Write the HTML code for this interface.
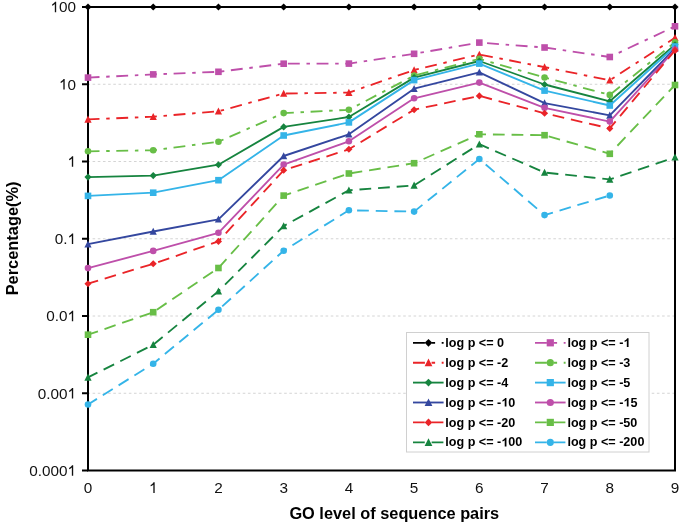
<!DOCTYPE html>
<html><head><meta charset="utf-8"><style>
html,body{margin:0;padding:0;background:#fff;}
body{width:685px;height:527px;overflow:hidden;position:relative;font-family:"Liberation Sans",sans-serif;}
svg{position:absolute;left:0;top:0;will-change:transform;}
text{font-family:"Liberation Sans",sans-serif;font-kerning:none;}
</style></head><body>
<svg width="685" height="527" viewBox="0 0 685 527">

<line x1="89" y1="84.25" x2="674" y2="84.25" stroke="#d4d4d4" stroke-width="1" stroke-dasharray="2.5885 2.5885" stroke-dashoffset="1.58"/>
<line x1="89" y1="161.50" x2="674" y2="161.50" stroke="#d4d4d4" stroke-width="1" stroke-dasharray="2.5885 2.5885" stroke-dashoffset="1.58"/>
<line x1="89" y1="238.75" x2="674" y2="238.75" stroke="#d4d4d4" stroke-width="1" stroke-dasharray="2.5885 2.5885" stroke-dashoffset="1.58"/>
<line x1="89" y1="316.00" x2="674" y2="316.00" stroke="#d4d4d4" stroke-width="1" stroke-dasharray="2.5885 2.5885" stroke-dashoffset="1.58"/>
<line x1="89" y1="393.25" x2="674" y2="393.25" stroke="#d4d4d4" stroke-width="1" stroke-dasharray="2.5885 2.5885" stroke-dashoffset="1.58"/>
<rect x="88" y="7" width="587" height="463.5" fill="none" stroke="#000" stroke-width="2"/>
<line x1="82" y1="7.00" x2="88" y2="7.00" stroke="#000" stroke-width="2"/>
<line x1="82" y1="84.25" x2="88" y2="84.25" stroke="#000" stroke-width="2"/>
<line x1="82" y1="161.50" x2="88" y2="161.50" stroke="#000" stroke-width="2"/>
<line x1="82" y1="238.75" x2="88" y2="238.75" stroke="#000" stroke-width="2"/>
<line x1="82" y1="316.00" x2="88" y2="316.00" stroke="#000" stroke-width="2"/>
<line x1="82" y1="393.25" x2="88" y2="393.25" stroke="#000" stroke-width="2"/>
<line x1="82" y1="470.50" x2="88" y2="470.50" stroke="#000" stroke-width="2"/>
<path transform="translate(50.47 12.30) scale(0.007471 -0.007471)" d="M763 0L583 0L583 1100Q520 1040 430 985Q330 925 223 885L223 1055Q340 1110 440 1195Q560 1300 610 1409L763 1409Z" fill="#111"/><text x="58.98" y="12.30" font-size="15.3" fill="#111">00</text>
<path transform="translate(58.98 89.55) scale(0.007471 -0.007471)" d="M763 0L583 0L583 1100Q520 1040 430 985Q330 925 223 885L223 1055Q340 1110 440 1195Q560 1300 610 1409L763 1409Z" fill="#111"/><text x="67.49" y="89.55" font-size="15.3" fill="#111">0</text>
<path transform="translate(67.49 166.80) scale(0.007471 -0.007471)" d="M763 0L583 0L583 1100Q520 1040 430 985Q330 925 223 885L223 1055Q340 1110 440 1195Q560 1300 610 1409L763 1409Z" fill="#111"/>
<text x="54.73" y="244.05" font-size="15.3" fill="#111">0.</text><path transform="translate(67.49 244.05) scale(0.007471 -0.007471)" d="M763 0L583 0L583 1100Q520 1040 430 985Q330 925 223 885L223 1055Q340 1110 440 1195Q560 1300 610 1409L763 1409Z" fill="#111"/>
<text x="46.22" y="321.30" font-size="15.3" fill="#111">0.0</text><path transform="translate(67.49 321.30) scale(0.007471 -0.007471)" d="M763 0L583 0L583 1100Q520 1040 430 985Q330 925 223 885L223 1055Q340 1110 440 1195Q560 1300 610 1409L763 1409Z" fill="#111"/>
<text x="37.71" y="398.55" font-size="15.3" fill="#111">0.00</text><path transform="translate(67.49 398.55) scale(0.007471 -0.007471)" d="M763 0L583 0L583 1100Q520 1040 430 985Q330 925 223 885L223 1055Q340 1110 440 1195Q560 1300 610 1409L763 1409Z" fill="#111"/>
<text x="29.20" y="475.80" font-size="15.3" fill="#111">0.000</text><path transform="translate(67.49 475.80) scale(0.007471 -0.007471)" d="M763 0L583 0L583 1100Q520 1040 430 985Q330 925 223 885L223 1055Q340 1110 440 1195Q560 1300 610 1409L763 1409Z" fill="#111"/>
<text x="83.75" y="492.90" font-size="15.3" fill="#111">0</text>
<path transform="translate(148.97 492.90) scale(0.007471 -0.007471)" d="M763 0L583 0L583 1100Q520 1040 430 985Q330 925 223 885L223 1055Q340 1110 440 1195Q560 1300 610 1409L763 1409Z" fill="#111"/>
<text x="214.19" y="492.90" font-size="15.3" fill="#111">2</text>
<text x="279.41" y="492.90" font-size="15.3" fill="#111">3</text>
<text x="344.63" y="492.90" font-size="15.3" fill="#111">4</text>
<text x="409.86" y="492.90" font-size="15.3" fill="#111">5</text>
<text x="475.08" y="492.90" font-size="15.3" fill="#111">6</text>
<text x="540.30" y="492.90" font-size="15.3" fill="#111">7</text>
<text x="605.52" y="492.90" font-size="15.3" fill="#111">8</text>
<text x="670.75" y="492.90" font-size="15.3" fill="#111">9</text>
<text x="394.3" y="519.3" font-size="16.35" font-weight="bold" text-anchor="middle" fill="#000">GO level of sequence pairs</text>
<text transform="translate(17.8 238.4) rotate(-90)" x="0" y="0" font-size="16.4" font-weight="bold" text-anchor="middle" fill="#000">Percentage(%)</text>
<path d="M88.00 77.60L153.22 74.40L218.44 71.80L283.67 63.70L348.89 63.60L414.11 53.80L479.33 42.60L544.56 47.50L609.78 57.00L675.00 26.30" fill="none" stroke="#BE4FAA" stroke-width="1.85" stroke-dasharray="11.9 6.7 3.5 6.6" stroke-dashoffset="0.4" stroke-linejoin="round"/>
<rect x="84.70" y="74.30" width="6.60" height="6.60" fill="#BE4FAA"/>
<rect x="149.92" y="71.10" width="6.60" height="6.60" fill="#BE4FAA"/>
<rect x="215.14" y="68.50" width="6.60" height="6.60" fill="#BE4FAA"/>
<rect x="280.37" y="60.40" width="6.60" height="6.60" fill="#BE4FAA"/>
<rect x="345.59" y="60.30" width="6.60" height="6.60" fill="#BE4FAA"/>
<rect x="410.81" y="50.50" width="6.60" height="6.60" fill="#BE4FAA"/>
<rect x="476.03" y="39.30" width="6.60" height="6.60" fill="#BE4FAA"/>
<rect x="541.26" y="44.20" width="6.60" height="6.60" fill="#BE4FAA"/>
<rect x="606.48" y="53.70" width="6.60" height="6.60" fill="#BE4FAA"/>
<rect x="671.70" y="23.00" width="6.60" height="6.60" fill="#BE4FAA"/>
<path d="M88.00 119.40L153.22 116.70L218.44 111.30L283.67 93.50L348.89 92.60L414.11 70.00L479.33 54.50L544.56 67.10L609.78 80.30L675.00 37.80" fill="none" stroke="#EA2428" stroke-width="1.85" stroke-dasharray="11.9 6.7 3.5 6.6" stroke-dashoffset="0.4" stroke-linejoin="round"/>
<path d="M88.00 115.60L91.60 122.70L84.40 122.70Z" fill="#EA2428"/>
<path d="M153.22 112.90L156.82 120.00L149.62 120.00Z" fill="#EA2428"/>
<path d="M218.44 107.50L222.04 114.60L214.84 114.60Z" fill="#EA2428"/>
<path d="M283.67 89.70L287.27 96.80L280.07 96.80Z" fill="#EA2428"/>
<path d="M348.89 88.80L352.49 95.90L345.29 95.90Z" fill="#EA2428"/>
<path d="M414.11 66.20L417.71 73.30L410.51 73.30Z" fill="#EA2428"/>
<path d="M479.33 50.70L482.93 57.80L475.73 57.80Z" fill="#EA2428"/>
<path d="M544.56 63.30L548.16 70.40L540.96 70.40Z" fill="#EA2428"/>
<path d="M609.78 76.50L613.38 83.60L606.18 83.60Z" fill="#EA2428"/>
<path d="M675.00 34.00L678.60 41.10L671.40 41.10Z" fill="#EA2428"/>
<path d="M88.00 151.30L153.22 150.30L218.44 141.70L283.67 113.10L348.89 109.80L414.11 75.60L479.33 58.90L544.56 77.50L609.78 94.90L675.00 42.20" fill="none" stroke="#68BE47" stroke-width="1.85" stroke-dasharray="11.9 6.7 3.5 6.6" stroke-dashoffset="0.4" stroke-linejoin="round"/>
<circle cx="88.00" cy="151.30" r="3.30" fill="#68BE47"/>
<circle cx="153.22" cy="150.30" r="3.30" fill="#68BE47"/>
<circle cx="218.44" cy="141.70" r="3.30" fill="#68BE47"/>
<circle cx="283.67" cy="113.10" r="3.30" fill="#68BE47"/>
<circle cx="348.89" cy="109.80" r="3.30" fill="#68BE47"/>
<circle cx="414.11" cy="75.60" r="3.30" fill="#68BE47"/>
<circle cx="479.33" cy="58.90" r="3.30" fill="#68BE47"/>
<circle cx="544.56" cy="77.50" r="3.30" fill="#68BE47"/>
<circle cx="609.78" cy="94.90" r="3.30" fill="#68BE47"/>
<circle cx="675.00" cy="42.20" r="3.30" fill="#68BE47"/>
<path d="M88.00 177.10L153.22 175.60L218.44 164.70L283.67 126.90L348.89 117.00L414.11 77.60L479.33 61.00L544.56 84.50L609.78 101.30L675.00 44.80" fill="none" stroke="#16843F" stroke-width="1.85" stroke-linejoin="round"/>
<path d="M88.00 173.55L91.55 177.10L88.00 180.65L84.45 177.10Z" fill="#16843F"/>
<path d="M153.22 172.05L156.77 175.60L153.22 179.15L149.67 175.60Z" fill="#16843F"/>
<path d="M218.44 161.15L221.99 164.70L218.44 168.25L214.89 164.70Z" fill="#16843F"/>
<path d="M283.67 123.35L287.22 126.90L283.67 130.45L280.12 126.90Z" fill="#16843F"/>
<path d="M348.89 113.45L352.44 117.00L348.89 120.55L345.34 117.00Z" fill="#16843F"/>
<path d="M414.11 74.05L417.66 77.60L414.11 81.15L410.56 77.60Z" fill="#16843F"/>
<path d="M479.33 57.45L482.88 61.00L479.33 64.55L475.78 61.00Z" fill="#16843F"/>
<path d="M544.56 80.95L548.11 84.50L544.56 88.05L541.01 84.50Z" fill="#16843F"/>
<path d="M609.78 97.75L613.33 101.30L609.78 104.85L606.23 101.30Z" fill="#16843F"/>
<path d="M675.00 41.25L678.55 44.80L675.00 48.35L671.45 44.80Z" fill="#16843F"/>
<path d="M88.00 195.90L153.22 192.70L218.44 180.20L283.67 135.50L348.89 122.40L414.11 80.10L479.33 63.60L544.56 90.60L609.78 105.50L675.00 46.50" fill="none" stroke="#34B4E8" stroke-width="1.85" stroke-linejoin="round"/>
<rect x="84.70" y="192.60" width="6.60" height="6.60" fill="#34B4E8"/>
<rect x="149.92" y="189.40" width="6.60" height="6.60" fill="#34B4E8"/>
<rect x="215.14" y="176.90" width="6.60" height="6.60" fill="#34B4E8"/>
<rect x="280.37" y="132.20" width="6.60" height="6.60" fill="#34B4E8"/>
<rect x="345.59" y="119.10" width="6.60" height="6.60" fill="#34B4E8"/>
<rect x="410.81" y="76.80" width="6.60" height="6.60" fill="#34B4E8"/>
<rect x="476.03" y="60.30" width="6.60" height="6.60" fill="#34B4E8"/>
<rect x="541.26" y="87.30" width="6.60" height="6.60" fill="#34B4E8"/>
<rect x="606.48" y="102.20" width="6.60" height="6.60" fill="#34B4E8"/>
<rect x="671.70" y="43.20" width="6.60" height="6.60" fill="#34B4E8"/>
<path d="M88.00 244.20L153.22 231.50L218.44 219.30L283.67 156.00L348.89 134.30L414.11 88.70L479.33 72.30L544.56 103.10L609.78 115.40L675.00 48.50" fill="none" stroke="#34479F" stroke-width="1.85" stroke-linejoin="round"/>
<path d="M88.00 240.40L91.60 247.50L84.40 247.50Z" fill="#34479F"/>
<path d="M153.22 227.70L156.82 234.80L149.62 234.80Z" fill="#34479F"/>
<path d="M218.44 215.50L222.04 222.60L214.84 222.60Z" fill="#34479F"/>
<path d="M283.67 152.20L287.27 159.30L280.07 159.30Z" fill="#34479F"/>
<path d="M348.89 130.50L352.49 137.60L345.29 137.60Z" fill="#34479F"/>
<path d="M414.11 84.90L417.71 92.00L410.51 92.00Z" fill="#34479F"/>
<path d="M479.33 68.50L482.93 75.60L475.73 75.60Z" fill="#34479F"/>
<path d="M544.56 99.30L548.16 106.40L540.96 106.40Z" fill="#34479F"/>
<path d="M609.78 111.60L613.38 118.70L606.18 118.70Z" fill="#34479F"/>
<path d="M675.00 44.70L678.60 51.80L671.40 51.80Z" fill="#34479F"/>
<path d="M88.00 268.10L153.22 250.90L218.44 232.80L283.67 164.60L348.89 141.30L414.11 98.30L479.33 82.60L544.56 107.80L609.78 121.60L675.00 49.60" fill="none" stroke="#BE4FAA" stroke-width="1.85" stroke-linejoin="round"/>
<circle cx="88.00" cy="268.10" r="3.30" fill="#BE4FAA"/>
<circle cx="153.22" cy="250.90" r="3.30" fill="#BE4FAA"/>
<circle cx="218.44" cy="232.80" r="3.30" fill="#BE4FAA"/>
<circle cx="283.67" cy="164.60" r="3.30" fill="#BE4FAA"/>
<circle cx="348.89" cy="141.30" r="3.30" fill="#BE4FAA"/>
<circle cx="414.11" cy="98.30" r="3.30" fill="#BE4FAA"/>
<circle cx="479.33" cy="82.60" r="3.30" fill="#BE4FAA"/>
<circle cx="544.56" cy="107.80" r="3.30" fill="#BE4FAA"/>
<circle cx="609.78" cy="121.60" r="3.30" fill="#BE4FAA"/>
<circle cx="675.00" cy="49.60" r="3.30" fill="#BE4FAA"/>
<path d="M88.00 283.70L153.22 263.80L218.44 241.40L283.67 170.30L348.89 149.30L414.11 109.70L479.33 95.90L544.56 113.30L609.78 128.40L675.00 50.40" fill="none" stroke="#EA2428" stroke-width="1.85" stroke-dasharray="11.75 6.9" stroke-dashoffset="1.2" stroke-linejoin="round"/>
<path d="M88.00 280.15L91.55 283.70L88.00 287.25L84.45 283.70Z" fill="#EA2428"/>
<path d="M153.22 260.25L156.77 263.80L153.22 267.35L149.67 263.80Z" fill="#EA2428"/>
<path d="M218.44 237.85L221.99 241.40L218.44 244.95L214.89 241.40Z" fill="#EA2428"/>
<path d="M283.67 166.75L287.22 170.30L283.67 173.85L280.12 170.30Z" fill="#EA2428"/>
<path d="M348.89 145.75L352.44 149.30L348.89 152.85L345.34 149.30Z" fill="#EA2428"/>
<path d="M414.11 106.15L417.66 109.70L414.11 113.25L410.56 109.70Z" fill="#EA2428"/>
<path d="M479.33 92.35L482.88 95.90L479.33 99.45L475.78 95.90Z" fill="#EA2428"/>
<path d="M544.56 109.75L548.11 113.30L544.56 116.85L541.01 113.30Z" fill="#EA2428"/>
<path d="M609.78 124.85L613.33 128.40L609.78 131.95L606.23 128.40Z" fill="#EA2428"/>
<path d="M675.00 46.85L678.55 50.40L675.00 53.95L671.45 50.40Z" fill="#EA2428"/>
<path d="M88.00 334.70L153.22 312.20L218.44 268.00L283.67 195.60L348.89 173.50L414.11 163.20L479.33 134.30L544.56 135.20L609.78 153.80L675.00 85.00" fill="none" stroke="#68BE47" stroke-width="1.85" stroke-dasharray="11.75 6.9" stroke-dashoffset="1.2" stroke-linejoin="round"/>
<rect x="84.70" y="331.40" width="6.60" height="6.60" fill="#68BE47"/>
<rect x="149.92" y="308.90" width="6.60" height="6.60" fill="#68BE47"/>
<rect x="215.14" y="264.70" width="6.60" height="6.60" fill="#68BE47"/>
<rect x="280.37" y="192.30" width="6.60" height="6.60" fill="#68BE47"/>
<rect x="345.59" y="170.20" width="6.60" height="6.60" fill="#68BE47"/>
<rect x="410.81" y="159.90" width="6.60" height="6.60" fill="#68BE47"/>
<rect x="476.03" y="131.00" width="6.60" height="6.60" fill="#68BE47"/>
<rect x="541.26" y="131.90" width="6.60" height="6.60" fill="#68BE47"/>
<rect x="606.48" y="150.50" width="6.60" height="6.60" fill="#68BE47"/>
<rect x="671.70" y="81.70" width="6.60" height="6.60" fill="#68BE47"/>
<path d="M88.00 377.40L153.22 344.70L218.44 291.20L283.67 226.00L348.89 190.30L414.11 185.40L479.33 144.20L544.56 172.50L609.78 179.40L675.00 157.30" fill="none" stroke="#16843F" stroke-width="1.85" stroke-dasharray="11.75 6.9" stroke-dashoffset="1.2" stroke-linejoin="round"/>
<path d="M88.00 373.60L91.60 380.70L84.40 380.70Z" fill="#16843F"/>
<path d="M153.22 340.90L156.82 348.00L149.62 348.00Z" fill="#16843F"/>
<path d="M218.44 287.40L222.04 294.50L214.84 294.50Z" fill="#16843F"/>
<path d="M283.67 222.20L287.27 229.30L280.07 229.30Z" fill="#16843F"/>
<path d="M348.89 186.50L352.49 193.60L345.29 193.60Z" fill="#16843F"/>
<path d="M414.11 181.60L417.71 188.70L410.51 188.70Z" fill="#16843F"/>
<path d="M479.33 140.40L482.93 147.50L475.73 147.50Z" fill="#16843F"/>
<path d="M544.56 168.70L548.16 175.80L540.96 175.80Z" fill="#16843F"/>
<path d="M609.78 175.60L613.38 182.70L606.18 182.70Z" fill="#16843F"/>
<path d="M675.00 153.50L678.60 160.60L671.40 160.60Z" fill="#16843F"/>
<path d="M88.00 404.50L153.22 363.70L218.44 309.80L283.67 250.70L348.89 210.30L414.11 211.60L479.33 159.00L544.56 215.10L609.78 195.50" fill="none" stroke="#34B4E8" stroke-width="1.85" stroke-dasharray="11.75 6.9" stroke-dashoffset="1.2" stroke-linejoin="round"/>
<circle cx="88.00" cy="404.50" r="3.30" fill="#34B4E8"/>
<circle cx="153.22" cy="363.70" r="3.30" fill="#34B4E8"/>
<circle cx="218.44" cy="309.80" r="3.30" fill="#34B4E8"/>
<circle cx="283.67" cy="250.70" r="3.30" fill="#34B4E8"/>
<circle cx="348.89" cy="210.30" r="3.30" fill="#34B4E8"/>
<circle cx="414.11" cy="211.60" r="3.30" fill="#34B4E8"/>
<circle cx="479.33" cy="159.00" r="3.30" fill="#34B4E8"/>
<circle cx="544.56" cy="215.10" r="3.30" fill="#34B4E8"/>
<circle cx="609.78" cy="195.50" r="3.30" fill="#34B4E8"/>
<path d="M88.00 3.45L91.55 7.00L88.00 10.55L84.45 7.00Z" fill="#000"/><path d="M153.22 3.45L156.77 7.00L153.22 10.55L149.67 7.00Z" fill="#000"/><path d="M218.44 3.45L221.99 7.00L218.44 10.55L214.89 7.00Z" fill="#000"/><path d="M283.67 3.45L287.22 7.00L283.67 10.55L280.12 7.00Z" fill="#000"/><path d="M348.89 3.45L352.44 7.00L348.89 10.55L345.34 7.00Z" fill="#000"/><path d="M414.11 3.45L417.66 7.00L414.11 10.55L410.56 7.00Z" fill="#000"/><path d="M479.33 3.45L482.88 7.00L479.33 10.55L475.78 7.00Z" fill="#000"/><path d="M544.56 3.45L548.11 7.00L544.56 10.55L541.01 7.00Z" fill="#000"/><path d="M609.78 3.45L613.33 7.00L609.78 10.55L606.23 7.00Z" fill="#000"/><path d="M675.00 3.45L678.55 7.00L675.00 10.55L671.45 7.00Z" fill="#000"/>
<rect x="406.5" y="332.5" width="242.5" height="119.5" fill="#fff" stroke="#d0d0d0" stroke-width="1"/>
<line x1="413" y1="342.80" x2="443.6" y2="342.80" stroke="#000000" stroke-width="1.85" stroke-dasharray="11.9 6.7 3.5 6.6"/>
<path d="M428.50 338.95L432.35 342.80L428.50 346.65L424.65 342.80Z" fill="#000000"/>
<text x="445.30" y="346.90" font-size="12.6" font-weight="bold" fill="#000">log p &lt;= 0</text>
<line x1="535" y1="342.80" x2="565.6" y2="342.80" stroke="#BE4FAA" stroke-width="1.85" stroke-dasharray="11.9 6.7 3.5 6.6"/>
<rect x="546.70" y="339.20" width="7.20" height="7.20" fill="#BE4FAA"/>
<text x="567.40" y="346.90" font-size="12.6" font-weight="bold" fill="#000">log p &lt;= -</text><path transform="translate(623.40 346.90) scale(0.006152 -0.006152)" d="M838 0L557 0L557 1012Q403 868 194 800L194 1045Q304 1081 433 1182Q562 1283 610 1409L838 1409Z" fill="#000"/>
<line x1="413" y1="362.70" x2="443.6" y2="362.70" stroke="#EA2428" stroke-width="1.85" stroke-dasharray="11.9 6.7 3.5 6.6"/>
<path d="M428.50 358.60L432.40 366.30L424.60 366.30Z" fill="#EA2428"/>
<text x="445.30" y="366.80" font-size="12.6" font-weight="bold" fill="#000">log p &lt;= -2</text>
<line x1="535" y1="362.70" x2="565.6" y2="362.70" stroke="#68BE47" stroke-width="1.85" stroke-dasharray="11.9 6.7 3.5 6.6"/>
<circle cx="550.30" cy="362.70" r="3.60" fill="#68BE47"/>
<text x="567.40" y="366.80" font-size="12.6" font-weight="bold" fill="#000">log p &lt;= -3</text>
<line x1="413" y1="382.60" x2="443.6" y2="382.60" stroke="#16843F" stroke-width="1.85"/>
<path d="M428.50 378.75L432.35 382.60L428.50 386.45L424.65 382.60Z" fill="#16843F"/>
<text x="445.30" y="386.70" font-size="12.6" font-weight="bold" fill="#000">log p &lt;= -4</text>
<line x1="535" y1="382.60" x2="565.6" y2="382.60" stroke="#34B4E8" stroke-width="1.85"/>
<rect x="546.70" y="379.00" width="7.20" height="7.20" fill="#34B4E8"/>
<text x="567.40" y="386.70" font-size="12.6" font-weight="bold" fill="#000">log p &lt;= -5</text>
<line x1="413" y1="402.50" x2="443.6" y2="402.50" stroke="#34479F" stroke-width="1.85"/>
<path d="M428.50 398.40L432.40 406.10L424.60 406.10Z" fill="#34479F"/>
<text x="445.30" y="406.60" font-size="12.6" font-weight="bold" fill="#000">log p &lt;= -</text><path transform="translate(501.30 406.60) scale(0.006152 -0.006152)" d="M838 0L557 0L557 1012Q403 868 194 800L194 1045Q304 1081 433 1182Q562 1283 610 1409L838 1409Z" fill="#000"/><text x="508.31" y="406.60" font-size="12.6" font-weight="bold" fill="#000">0</text>
<line x1="535" y1="402.50" x2="565.6" y2="402.50" stroke="#BE4FAA" stroke-width="1.85"/>
<circle cx="550.30" cy="402.50" r="3.60" fill="#BE4FAA"/>
<text x="567.40" y="406.60" font-size="12.6" font-weight="bold" fill="#000">log p &lt;= -</text><path transform="translate(623.40 406.60) scale(0.006152 -0.006152)" d="M838 0L557 0L557 1012Q403 868 194 800L194 1045Q304 1081 433 1182Q562 1283 610 1409L838 1409Z" fill="#000"/><text x="630.41" y="406.60" font-size="12.6" font-weight="bold" fill="#000">5</text>
<line x1="413" y1="422.40" x2="443.6" y2="422.40" stroke="#EA2428" stroke-width="1.85" stroke-dasharray="11.75 6.9"/>
<path d="M428.50 418.55L432.35 422.40L428.50 426.25L424.65 422.40Z" fill="#EA2428"/>
<text x="445.30" y="426.50" font-size="12.6" font-weight="bold" fill="#000">log p &lt;= -20</text>
<line x1="535" y1="422.40" x2="565.6" y2="422.40" stroke="#68BE47" stroke-width="1.85" stroke-dasharray="11.75 6.9"/>
<rect x="546.70" y="418.80" width="7.20" height="7.20" fill="#68BE47"/>
<text x="567.40" y="426.50" font-size="12.6" font-weight="bold" fill="#000">log p &lt;= -50</text>
<line x1="413" y1="442.30" x2="443.6" y2="442.30" stroke="#16843F" stroke-width="1.85" stroke-dasharray="11.75 6.9"/>
<path d="M428.50 438.20L432.40 445.90L424.60 445.90Z" fill="#16843F"/>
<text x="445.30" y="446.40" font-size="12.6" font-weight="bold" fill="#000">log p &lt;= -</text><path transform="translate(501.30 446.40) scale(0.006152 -0.006152)" d="M838 0L557 0L557 1012Q403 868 194 800L194 1045Q304 1081 433 1182Q562 1283 610 1409L838 1409Z" fill="#000"/><text x="508.31" y="446.40" font-size="12.6" font-weight="bold" fill="#000">00</text>
<line x1="535" y1="442.30" x2="565.6" y2="442.30" stroke="#34B4E8" stroke-width="1.85" stroke-dasharray="11.75 6.9"/>
<circle cx="550.30" cy="442.30" r="3.60" fill="#34B4E8"/>
<text x="567.40" y="446.40" font-size="12.6" font-weight="bold" fill="#000">log p &lt;= -200</text>
</svg>
</body></html>
